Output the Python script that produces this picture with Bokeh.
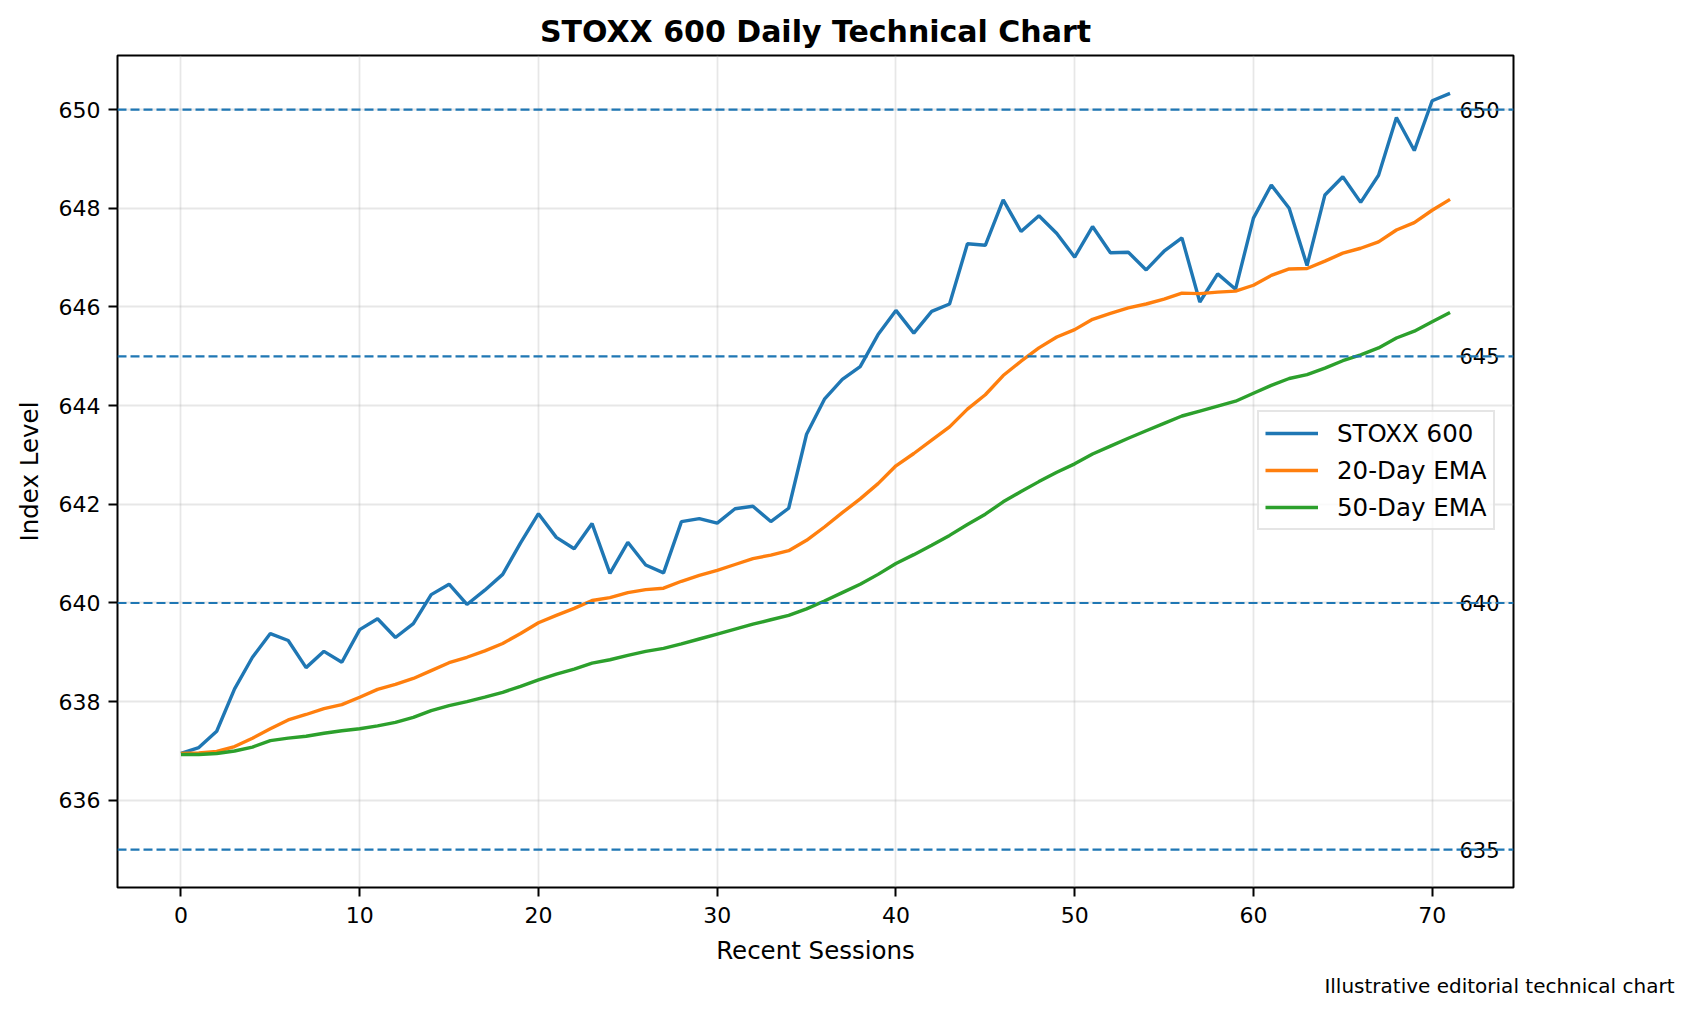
from bokeh.plotting import figure
from bokeh.models import Span, Legend, LegendItem, FixedTicker, Range1d, Title
from bokeh.embed import file_html
from bokeh.resources import INLINE
from bokeh.core.properties import value

sessions = list(range(72))
stoxx = [636.95, 637.07, 637.40, 638.26, 638.90, 639.38, 639.24, 638.69, 639.02, 638.80,
         639.46, 639.68, 639.30, 639.58, 640.17, 640.38, 639.97, 640.26, 640.58, 641.22,
         641.81, 641.33, 641.10, 641.61, 640.60, 641.23, 640.77, 640.61, 641.65, 641.71,
         641.62, 641.91, 641.96, 641.65, 641.92, 643.42, 644.13, 644.53, 644.79, 645.44,
         645.93, 645.47, 645.91, 646.06, 647.28, 647.25, 648.17, 647.53, 647.85, 647.49,
         647.01, 647.63, 647.10, 647.11, 646.75, 647.13, 647.40, 646.10, 646.67, 646.36,
         647.80, 648.47, 648.00, 646.84, 648.27, 648.64, 648.12, 648.67, 649.84, 649.17,
         650.18, 650.33]
ema20 = [636.95, 636.96, 636.99, 637.09, 637.26, 637.45, 637.63, 637.74, 637.86, 637.94,
         638.09, 638.25, 638.35, 638.47, 638.63, 638.79, 638.90, 639.03, 639.18, 639.38,
         639.60, 639.75, 639.89, 640.05, 640.11, 640.21, 640.27, 640.30, 640.44, 640.56,
         640.66, 640.78, 640.90, 640.97, 641.06, 641.27, 641.54, 641.83, 642.11, 642.42,
         642.78, 643.03, 643.30, 643.57, 643.93, 644.22, 644.61, 644.90, 645.17, 645.39,
         645.54, 645.75, 645.87, 645.98, 646.06, 646.16, 646.28, 646.27, 646.30, 646.32,
         646.44, 646.64, 646.77, 646.78, 646.93, 647.09, 647.19, 647.32, 647.56, 647.71,
         647.96, 648.18]
ema50 = [636.93, 636.93, 636.95, 637.00, 637.08, 637.21, 637.26, 637.30, 637.36, 637.41,
         637.45, 637.51, 637.58, 637.68, 637.82, 637.92, 638.00, 638.09, 638.19, 638.31,
         638.44, 638.56, 638.66, 638.78, 638.85, 638.94, 639.02, 639.08, 639.17, 639.27,
         639.37, 639.47, 639.57, 639.66, 639.75, 639.88, 640.04, 640.21, 640.38, 640.58,
         640.80, 640.98, 641.17, 641.37, 641.59, 641.80, 642.05, 642.26, 642.46, 642.65,
         642.82, 643.02, 643.18, 643.34, 643.49, 643.64, 643.79, 643.89, 643.99, 644.09,
         644.25, 644.41, 644.55, 644.63, 644.76, 644.91, 645.03, 645.17, 645.37, 645.51,
         645.70, 645.89]
levels = [635, 640, 645, 650]
level_labels = ["635", "640", "645", "650"]
series_names = ["STOXX 600", "20-Day EMA", "50-Day EMA"]
x_ticks = [0, 10, 20, 30, 40, 50, 60, 70]
y_ticks = [636, 638, 640, 642, 644, 646, 648, 650]
footnote = "Illustrative editorial technical chart"

FONT = "DejaVu Sans"
colors = ["#1f77b4", "#ff7f0e", "#2ca02c"]

FW, FH = 1396, 832
BL, BR, BT, BB = 117, 163, 55, 114

xmin, xmax = min(sessions), max(sessions)
xpad = 0.05 * (xmax - xmin)
x0, x1 = xmin - xpad, xmax + xpad
lo = min(min(stoxx), min(ema50), min(levels))
hi = max(max(stoxx), max(levels))
ypad = 0.05 * (hi - lo)
y0, y1 = lo - ypad, hi + ypad

p = figure(frame_width=FW, frame_height=FH, output_backend="svg", toolbar_location=None,
           x_range=Range1d(x0, x1), y_range=Range1d(y0, y1),
           min_border_left=BL, min_border_right=BR, min_border_top=BT, min_border_bottom=BB,
           title="STOXX 600 Daily Technical Chart")
p.title.text_font = FONT
p.title.text_font_size = "30px"
p.title.text_font_style = "bold"
p.title.align = "center"
p.title.text_color = "black"
p.title.standoff = 14

p.outline_line_color = "black"
p.outline_line_width = 2
p.background_fill_color = "white"
p.border_fill_color = "white"

for ax in (p.xaxis[0], p.yaxis[0]):
    ax.axis_line_color = None
    ax.major_tick_line_color = "black"
    ax.major_tick_line_width = 2
    ax.major_tick_out = 9
    ax.major_tick_in = 0
    ax.minor_tick_line_color = None
    ax.major_label_text_font = FONT
    ax.major_label_text_font_size = "22px"
    ax.major_label_text_color = "black"
    ax.axis_label_text_font = FONT
    ax.axis_label_text_font_size = "24.5px"
    ax.axis_label_text_font_style = "normal"
    ax.axis_label_text_color = "black"
p.xaxis.ticker = FixedTicker(ticks=x_ticks)
p.yaxis.ticker = FixedTicker(ticks=y_ticks)
p.xaxis.axis_label = "Recent Sessions"
p.yaxis.axis_label = "Index Level"
p.xaxis.major_label_standoff = 10
p.yaxis.major_label_standoff = 8
p.xaxis.axis_label_standoff = 10
p.yaxis.axis_label_standoff = 12

p.grid.grid_line_color = "#b0b0b0"
p.grid.grid_line_alpha = 0.3
p.grid.grid_line_width = 1.8

for lv in levels:
    p.add_layout(Span(location=lv, dimension="width", line_color=colors[0],
                      line_width=2.2, line_dash="9 4"))

renderers = []
for ys, c in zip([stoxx, ema20, ema50], colors):
    r = p.line(sessions, ys, line_color=c, line_width=3.4)
    renderers.append(r)

lab_x = x1 - 0.01 * (x1 - x0)
p.text(x=[lab_x] * len(levels), y=levels, text=level_labels, text_align="right",
       text_baseline="middle", text_font=value(FONT), text_font_size="21px",
       text_color="black")

legend = Legend(items=[LegendItem(label=n, renderers=[r]) for n, r in zip(series_names, renderers)],
                location=(1140, 357))
legend.label_text_font = FONT
legend.label_text_font_size = "24.5px"
legend.label_text_color = "black"
legend.glyph_width = 53
legend.glyph_height = 30
legend.label_height = 30
legend.label_standoff = 19
legend.spacing = 7
legend.padding = 6
legend.margin = 0
legend.border_line_color = "#cccccc"
legend.border_line_width = 2
legend.background_fill_alpha = 0.8
p.add_layout(legend)

foot = Title(text=footnote, align="right", offset=-161, text_font=FONT,
             text_font_size="20px", text_font_style="normal", text_color="black", standoff=8)
p.add_layout(foot, "below")

open("out.html", "w").write(file_html(p, INLINE))
